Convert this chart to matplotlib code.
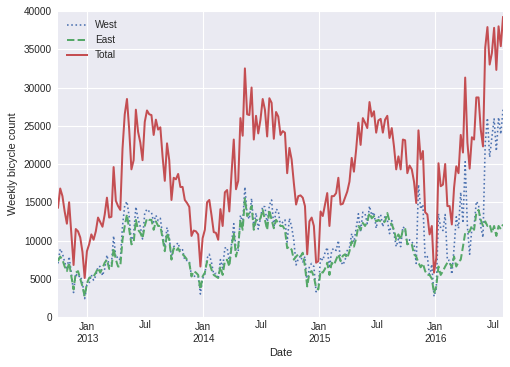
import matplotlib
matplotlib.use("Agg")
import numpy as np
import pandas as pd
import matplotlib.pyplot as plt

# weekly counts (first week starts 2012-10-01)
start = "2012-10-01"

total = [14300, 16800, 15800, 13800, 12200, 15000, 11000, 6800, 11500, 11200,
         10400, 8500, 5100, 8600, 9500, 10800, 10100, 11200, 13000, 12400,
         11800, 13400, 15600, 13000, 13100, 19600, 15200, 14500, 14000, 22000,
         26500, 28500, 24500, 19300, 20500, 27100, 24200, 22800, 20500, 25500,
         27000, 26500, 26400, 23800, 25800, 24500, 24800, 21000, 17800, 22700,
         20500, 15300, 18200, 18000, 18700, 17000, 17000, 15300, 14900, 14400,
         10600, 11300, 11200, 10800, 6600, 10300, 11400, 15000, 15300, 13300,
         11100, 11000, 10100, 14100, 11900, 16300, 16600, 13800, 18800, 23200,
         16700, 17800, 26000, 23700, 32500, 26500, 26400, 30000, 23200, 26300,
         24000, 25800, 28500, 27100, 23600, 28600, 28000, 23300, 26800, 26200,
         23800, 24300, 24100, 18800, 22100, 20600, 17500, 14700, 15800, 15900,
         15600, 14500, 8200, 12500, 13000, 11900, 7100, 7300, 13800, 13200,
         14700, 16200, 11900, 15800, 15800, 16200, 18200, 14700, 14800, 15600,
         16400, 17700, 20800, 19000, 21900, 25400, 22500, 26000, 25400, 24700,
         28100, 26200, 26900, 24100, 25700, 25900, 24100, 25800, 26300, 23400,
         24700, 22300, 19300, 21000, 19300, 23200, 23100, 18800, 19800, 19300,
         17700, 14900, 24400, 20600, 21700, 13700, 13400, 10800, 11900, 5800,
         7700, 20100, 17100, 17300, 20000, 14500, 14500, 12100, 16900, 19700,
         18800, 23800, 21500, 31300, 22800, 19400, 23500, 23200, 28700, 28700,
         24500, 22300, 35200, 37900, 33000, 34500, 37800, 32300, 38000, 35400,
         39200]

east = [7300, 7900, 7500, 6600, 6000, 7100, 5300, 3600, 5800, 6000,
        5000, 4000, 2700, 4400, 5100, 5300, 5300, 5800, 6400, 5800,
        6400, 7100, 7500, 6300, 6300, 9000, 7500, 6600, 6600, 10100,
        11900, 13400, 11400, 9500, 9700, 12700, 11400, 11000, 10300, 11900,
        12900, 12700, 12700, 11400, 12500, 11900, 11900, 10300, 8600, 11000,
        10100, 7500, 9000, 8600, 9000, 8400, 8200, 7900, 7500, 7100,
        5300, 6000, 5800, 5500, 3600, 5300, 5800, 7300, 7100, 6200,
        5500, 5300, 5100, 6600, 5500, 7300, 7500, 6600, 9200, 11000,
        7900, 9200, 12700, 11400, 15500, 13200, 13600, 14500, 11400, 12700,
        12500, 12900, 14000, 12700, 11400, 14000, 12700, 11600, 12700, 12300,
        11900, 11900, 11400, 9000, 9200, 8800, 7500, 7900, 8200, 7900,
        8400, 6600, 4000, 5800, 6000, 5300, 3800, 3600, 6000, 5800,
        6300, 7100, 5500, 7100, 6800, 7500, 8200, 7300, 8000, 8200,
        7700, 8600, 9900, 9200, 10300, 11900, 11400, 12300, 11900, 12500,
        13600, 12900, 13200, 12500, 12700, 12500, 12300, 12500, 13600, 12500,
        12100, 11400, 10100, 10800, 10100, 11400, 11600, 9500, 9700, 9500,
        8200, 7900, 7100, 6500, 7000, 6000, 5500, 5500, 5000, 3100,
        4000, 6600, 5500, 6000, 6600, 7100, 7100, 6500, 7900, 6600,
        7200, 7500, 9200, 11000, 11000, 11200, 11900, 11400, 13600, 14000,
        12700, 11900, 12500, 11900, 12100, 11000, 11900, 10600, 11900, 11500,
        12100]

west = [7000, 8900, 8300, 7200, 6200, 7900, 5700, 3200, 5700, 5200,
        5400, 4500, 2400, 4200, 4400, 5500, 4800, 5400, 6600, 6600,
        5400, 6300, 8100, 6700, 6800, 10600, 7700, 7900, 7400, 11900,
        14600, 15100, 13100, 9800, 10800, 14400, 12800, 11800, 10200, 13600,
        14100, 13800, 13700, 12400, 13300, 12600, 12900, 10700, 9200, 11700,
        10400, 7800, 9200, 9400, 9700, 8600, 8800, 7400, 7400, 7300,
        5300, 5300, 5400, 5300, 3000, 5000, 5600, 7700, 8200, 7100,
        5600, 5700, 5000, 7500, 6400, 9000, 9100, 7200, 9600, 12200,
        8800, 8600, 13300, 12300, 17000, 13300, 12800, 15500, 11800, 13600,
        11500, 12900, 14500, 14400, 12200, 14600, 15300, 11700, 14100, 13900,
        11900, 12400, 12700, 9800, 12900, 11800, 10000, 6800, 7600, 8000,
        7200, 7900, 4200, 6700, 7000, 6600, 3300, 3700, 7800, 7400,
        8400, 9100, 6400, 8700, 9000, 8700, 10000, 7400, 6800, 7400,
        8700, 9100, 10900, 9800, 11600, 13500, 11100, 13700, 13500, 12200,
        14500, 13300, 13700, 11600, 13000, 13400, 11800, 13300, 12700, 10900,
        12600, 10900, 9200, 10200, 9200, 11800, 11500, 9300, 10100, 9800,
        9500, 7000, 17300, 14100, 14700, 7700, 7900, 5300, 6900, 2700,
        3700, 13500, 11600, 11300, 13400, 7400, 7400, 5600, 9000, 13100,
        11600, 16300, 12300, 20300, 11800, 8200, 11600, 11800, 15100, 14700,
        11800, 10400, 22700, 26000, 20900, 23500, 25900, 21700, 26100, 23900,
        27100]

dates = pd.date_range(start, periods=len(total), freq="7D")
data = pd.DataFrame({"West": west, "East": east, "Total": total}, index=dates)

plt.rcParams.update({
    "font.family": ["Liberation Sans", "DejaVu Sans"],
    "text.color": ".15",
    "axes.labelcolor": ".15",
    "xtick.color": ".15",
    "ytick.color": ".15",
    "axes.facecolor": "#EAEAF2",
    "axes.edgecolor": "white",
    "grid.color": "white",
    "axes.grid": True,
    "xtick.major.size": 0,
    "xtick.minor.size": 0,
    "ytick.major.size": 0,
})

fig = plt.figure(figsize=(510 / 72, 367 / 72), dpi=72)
ax = fig.add_axes([0.1137, 0.1362, 0.8726, 0.8338])
for s in ax.spines.values():
    s.set_visible(False)
ax.set_axisbelow(True)
ax.grid(True, which="major", color="white", linewidth=1.1)

ax.plot(data.index, data["West"], linestyle=":", color="#4C72B0", lw=1.6, label="West")
ax.plot(data.index, data["East"], linestyle="--", color="#55A868", lw=2.0, label="East")
ax.plot(data.index, data["Total"], linestyle="-", color="#C44E52", lw=2.0, label="Total")

ax.set_xlim(data.index[0], data.index[-1])
ax.set_ylim(0, 40000)
ax.set_yticks(np.arange(0, 40001, 5000))

jan = [pd.Timestamp(f"{y}-01-01") for y in range(2013, 2017)]
jul = [pd.Timestamp(f"{y}-07-01") for y in range(2013, 2017)]
ax.set_xticks(jan)
ax.set_xticklabels([f"Jan\n{d.year}" for d in jan])
ax.set_xticks(jul, minor=True)
ax.set_xticklabels(["Jul"] * len(jul), minor=True)
ax.tick_params(axis="both", which="both", labelsize=10)
ax.tick_params(axis="x", which="major", pad=5)
ax.tick_params(axis="x", which="minor", pad=3)
ax.tick_params(axis="y", pad=6)
ax.grid(False, which="minor")

ax.set_xlabel("Date", fontsize=11)
ax.set_ylabel("Weekly bicycle count", fontsize=11, labelpad=6)
ax.legend(loc="upper left", frameon=False, fontsize=10)

fig.savefig("out.png", dpi=72)
